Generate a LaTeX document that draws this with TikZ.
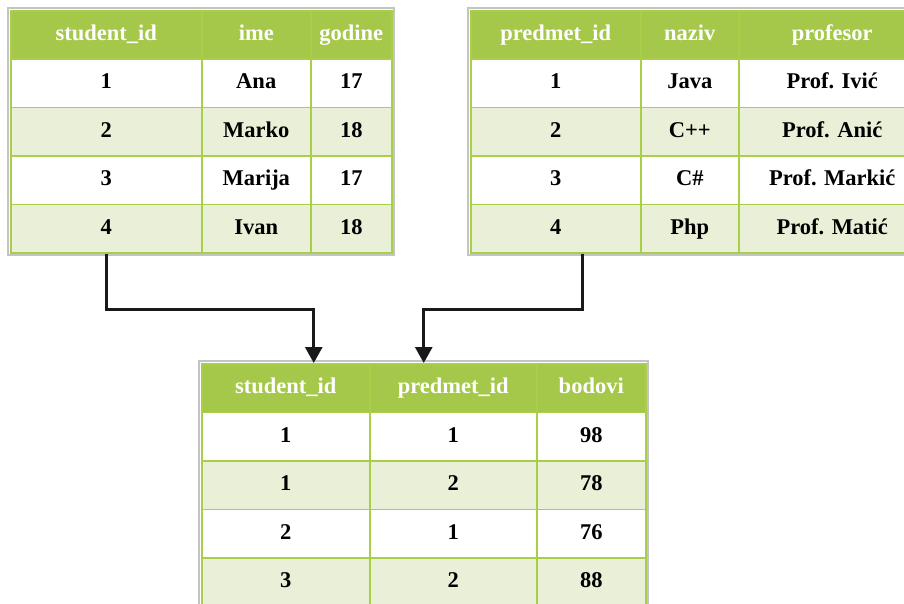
\documentclass[tikz,border=0pt]{standalone}
\usepackage{fontspec}
\setmainfont{Liberation Serif}
\usetikzlibrary{arrows.meta}

\definecolor{headgreen}{HTML}{A6C84A}
\definecolor{linegreen}{HTML}{A8CF48}
\definecolor{rowgreen}{HTML}{EAF0D8}
\definecolor{framegray}{HTML}{C4C4C4}

\begin{document}
\begin{tikzpicture}[x=1pt,y=-1pt,
  cell/.style={draw=linegreen,line width=1.5pt,anchor=north west,inner sep=0pt,
    text height=15pt,text depth=4pt,font=\fontsize{22.5}{26}\selectfont\bfseries},
  head cell/.style={cell,fill=headgreen,text=white},
  frame/.style={draw=framegray,line width=2pt},
  link/.style={-{Triangle[length=16pt,width=17pt]},line width=2.8pt,black!90}]

  \useasboundingbox (0,0) rectangle (904,603);

  % studenti
  \node[head cell,minimum width=191,minimum height=48.4] (s-h1) at (10,10) {student\_id};
  \node[head cell,minimum width=109,minimum height=48.4] (s-h2) at (201,10) {ime};
  \node[head cell,minimum width=81,minimum height=48.4] (s-h3) at (310,10) {godine};
  \foreach \r/\y/\fc/\a/\b/\c in {1/58.4/white/1/Ana/17, 2/106.8/rowgreen/2/Marko/18,
      3/155.2/white/3/Marija/17, 4/203.6/rowgreen/4/Ivan/18}{
    \node[cell,fill=\fc,minimum width=191,minimum height=48.4] (s-\r-1) at (10,\y) {\a};
    \node[cell,fill=\fc,minimum width=109,minimum height=48.4] (s-\r-2) at (201,\y) {\b};
    \node[cell,fill=\fc,minimum width=81,minimum height=48.4] (s-\r-3) at (310,\y) {\c};
  }
  \draw[frame] ([shift={(-1.6,-1.6)}]s-h1.north west) rectangle ([shift={(1.6,1.6)}]s-4-3.south east);

  % predmeti
  \node[head cell,minimum width=170,minimum height=48.4] (p-h1) at (470,10) {predmet\_id};
  \node[head cell,minimum width=98,minimum height=48.4] (p-h2) at (640,10) {naziv};
  \node[head cell,minimum width=187,minimum height=48.4] (p-h3) at (738,10) {profesor};
  \foreach \r/\y/\fc/\a/\b/\c in {1/58.4/white/1/Java/Prof. Ivić, 2/106.8/rowgreen/2/C++/Prof. Anić,
      3/155.2/white/3/C\#/Prof. Markić, 4/203.6/rowgreen/4/Php/Prof. Matić}{
    \node[cell,fill=\fc,minimum width=170,minimum height=48.4] (p-\r-1) at (470,\y) {\a};
    \node[cell,fill=\fc,minimum width=98,minimum height=48.4] (p-\r-2) at (640,\y) {\b};
    \node[cell,fill=\fc,minimum width=187,minimum height=48.4] (p-\r-3) at (738,\y) {\c};
  }
  \draw[frame] ([shift={(-1.6,-1.6)}]p-h1.north west) rectangle ([shift={(1.6,1.6)}]p-4-3.south east);

  % upisi
  \node[head cell,minimum width=168,minimum height=48.5] (e-h1) at (201,363) {student\_id};
  \node[head cell,minimum width=167,minimum height=48.5] (e-h2) at (369,363) {predmet\_id};
  \node[head cell,minimum width=109,minimum height=48.5] (e-h3) at (536,363) {bodovi};
  \foreach \r/\y/\fc/\a/\b/\c in {1/411.5/white/1/1/98, 2/460/rowgreen/1/2/78,
      3/508.5/white/2/1/76, 4/557/rowgreen/3/2/88}{
    \node[cell,fill=\fc,minimum width=168,minimum height=48.5] (e-\r-1) at (201,\y) {\a};
    \node[cell,fill=\fc,minimum width=167,minimum height=48.5] (e-\r-2) at (369,\y) {\b};
    \node[cell,fill=\fc,minimum width=109,minimum height=48.5] (e-\r-3) at (536,\y) {\c};
  }
  \draw[frame] ([shift={(-1.6,-1.6)}]e-h1.north west) rectangle ([shift={(1.6,1.6)}]e-4-3.south east);

  \draw[link] (s-4-1.south) -- ++(0,56) -| ([xshift=28]e-h1.north);
  \draw[link] ([xshift=27]p-4-1.south) -- ++(0,56) -| ([xshift=-29.5]e-h2.north);
\end{tikzpicture}
\end{document}
